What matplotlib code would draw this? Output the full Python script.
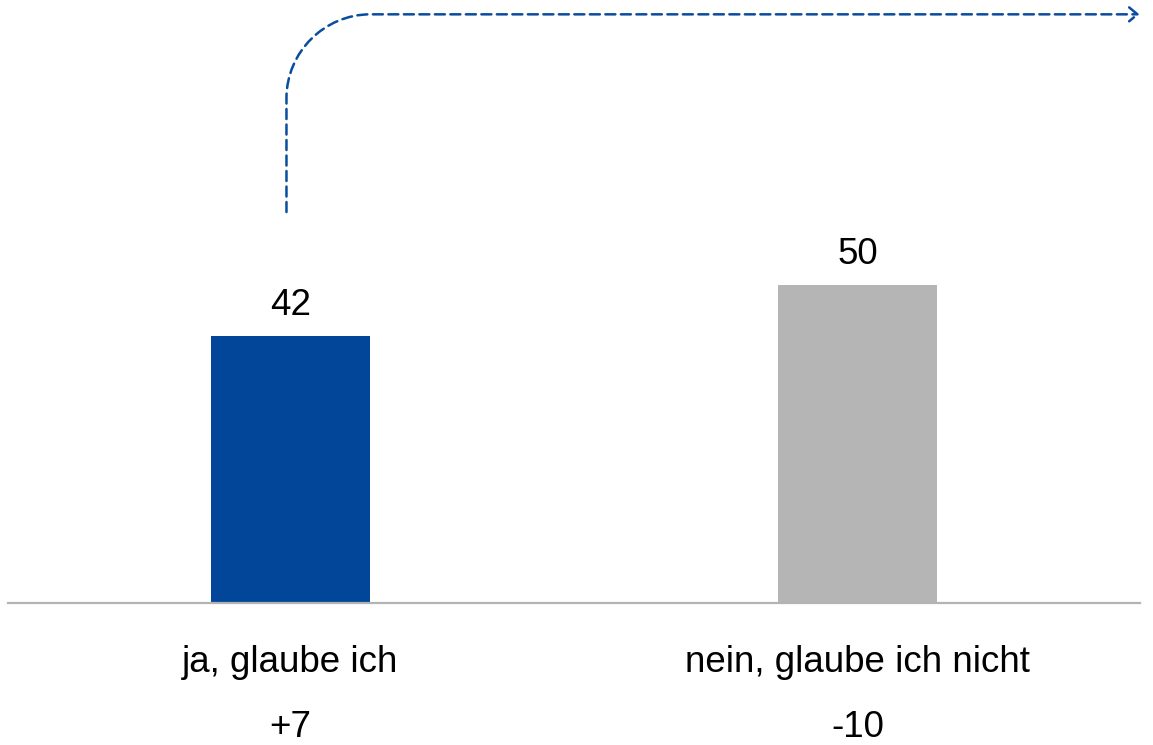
import matplotlib.pyplot as plt
from matplotlib.path import Path
from matplotlib.patches import FancyArrowPatch

categories = ['ja, glaube ich', 'nein, glaube ich nicht']
values = [42, 50]
changes = ['+7', '-10']
bar_colors = ['#02469A', '#B5B5B5']

plt.rcParams['font.family'] = ['Liberation Sans', 'DejaVu Sans']

fig = plt.figure(figsize=(11.53, 7.45), dpi=100)
# axes placed so the baseline sits at y=603px and bars centre at 291/858px
ax = fig.add_axes([8 / 1153, 142 / 745, 1132 / 1153, 603 / 745])
px_per_unit = 267 / 42
ax.set_xlim(-0.498, 1.498)
ax.set_ylim(0, 603 / px_per_unit)

x = range(len(categories))
ax.bar(x, values, width=0.279, color=bar_colors, zorder=2)

for i, v in enumerate(values):
    ax.annotate(str(v), (i, v), xytext=(0, 15), textcoords='offset points',
                ha='center', va='baseline', fontsize=26.5, color='black')
    ax.text(i, -69 / px_per_unit, categories[i], ha='center', va='baseline',
            fontsize=26.5, color='black', clip_on=False)
    ax.text(i, -134 / px_per_unit, changes[i], ha='center', va='baseline',
            fontsize=26.5, color='black', clip_on=False)

for s in ['top', 'right', 'left']:
    ax.spines[s].set_visible(False)
ax.spines['bottom'].set_color('#B3B3B3')
ax.spines['bottom'].set_linewidth(1.6)
ax.set_xticks([])
ax.set_yticks([])

# dashed trend arrow going up from the first bar and across to the right
y0 = 61.5
y1 = 92.6
rx = 84 / 567
ry = 84 / px_per_unit
xs = -0.007
verts = [(xs, y0), (xs, y1 - ry), (xs, y1 - ry * 0.45), (xs + rx * 0.45, y1),
         (xs + rx, y1), (1.497, y1)]
codes = [Path.MOVETO, Path.LINETO, Path.CURVE4, Path.CURVE4, Path.CURVE4, Path.LINETO]
arrow = FancyArrowPatch(path=Path(verts, codes), arrowstyle='->,head_length=6,head_width=5',
                        color='#0A4C9E', linewidth=1.8, linestyle=(0, (4, 2.2)),
                        clip_on=False, zorder=3)
ax.add_patch(arrow)

fig.savefig('out.png', dpi=100)
